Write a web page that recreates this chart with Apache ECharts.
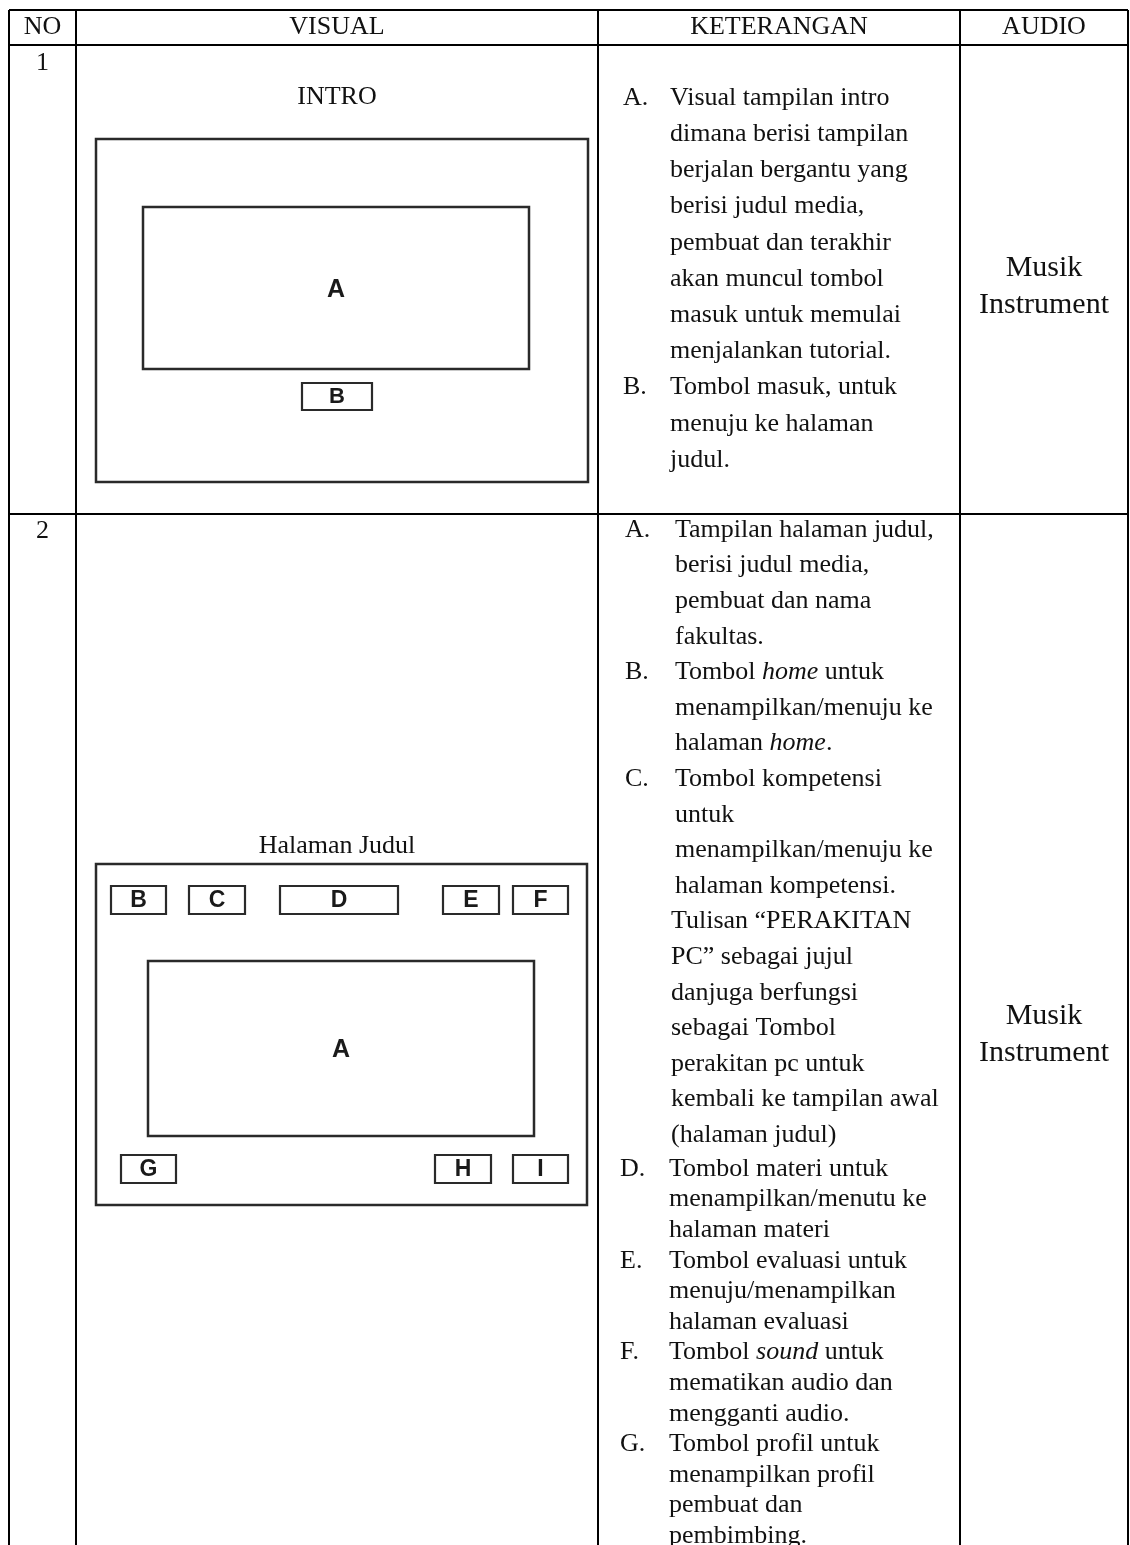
<!DOCTYPE html>
<html>
<head>
<meta charset="utf-8">
<script src="https://cdn.jsdelivr.net/npm/echarts@6/dist/echarts.min.js"></script>
<style>
html,body{margin:0;padding:0;background:#fff;}
#chart{width:1130px;height:1545px;}
</style>
</head>
<body>
<div id="chart"></div>
<script>
// ---------- content ----------
var headers = ['NO', 'VISUAL', 'KETERANGAN', 'AUDIO'];
var rowNumbers = ['1', '2'];
var visualTitles = ['INTRO', 'Halaman Judul'];
var audioText = [['Musik', 'Instrument'], ['Musik', 'Instrument']];
var introBoxLabels = ['A', 'B'];
var judulTopButtons = ['B', 'C', 'D', 'E', 'F'];
var judulBottomButtons = ['G', 'H', 'I'];
var judulMainLabel = 'A';

var ketRow1Letters = ['A.', 'B.'];
var ketRow1Lines = [
  ['Visual tampilan intro', 'dimana berisi tampilan', 'berjalan bergantu yang', 'berisi judul media,',
   'pembuat dan terakhir', 'akan muncul tombol', 'masuk untuk memulai', 'menjalankan tutorial.'],
  ['Tombol masuk, untuk', 'menuju ke halaman', 'judul.']
];
var ketRow2Letters = ['A.', 'B.', 'C.', 'D.', 'E.', 'F.', 'G.'];
var ketRow2Lines = [
  ['Tampilan halaman judul,', 'berisi judul media,', 'pembuat dan nama', 'fakultas.'],
  ['Tombol *home* untuk', 'menampilkan/menuju ke', 'halaman *home*.'],
  ['Tombol kompetensi', 'untuk', 'menampilkan/menuju ke', 'halaman kompetensi.',
   'Tulisan \u201cPERAKITAN', 'PC\u201d sebagai jujul', 'danjuga berfungsi', 'sebagai Tombol',
   'perakitan pc untuk', 'kembali ke tampilan awal', '(halaman judul)'],
  ['Tombol materi untuk', 'menampilkan/menutu ke', 'halaman materi'],
  ['Tombol evaluasi untuk', 'menuju/menampilkan', 'halaman evaluasi'],
  ['Tombol *sound* untuk', 'mematikan audio dan', 'mengganti audio.'],
  ['Tombol profil untuk', 'menampilkan profil', 'pembuat dan', 'pembimbing.']
];

// ---------- layout ----------
var L = {
  colX: [9, 76, 598, 960, 1128],
  rowY: [10, 45, 514],
  bottom: 1545,
  serif: '"Liberation Serif", "Times New Roman", serif',
  sans: '"Liberation Sans", Arial, sans-serif',
  fs: 26,
  audioFs: 30
};

var G = [];
function line(x1, y1, x2, y2, w, c) {
  G.push({type: 'line', silent: true, shape: {x1: x1, y1: y1, x2: x2, y2: y2},
    style: {stroke: c || '#000', lineWidth: w || 2}});
}
function rect(x1, y1, x2, y2, w, c) {
  G.push({type: 'rect', silent: true, shape: {x: x1, y: y1, width: x2 - x1, height: y2 - y1},
    style: {fill: 'none', stroke: c || '#2a2a2a', lineWidth: w || 2.5}});
}
function richify(s) {
  var parts = s.split('*');
  var out = '';
  for (var i = 0; i < parts.length; i++) {
    if (!parts[i]) continue;
    out += '{' + (i % 2 ? 'i' : 'n') + '|' + parts[i] + '}';
  }
  return out;
}
function text(x, y, s, opt) {
  opt = opt || {};
  var fs = opt.fs || L.fs;
  var fam = opt.family || L.serif;
  var weight = opt.bold ? 'bold' : 'normal';
  var hasRich = s.indexOf('*') >= 0;
  var st = {
    text: hasRich ? richify(s) : s,
    font: weight + ' ' + fs + 'px ' + fam,
    fill: opt.color || '#111',
    textAlign: opt.align || 'left',
    textVerticalAlign: 'middle'
  };
  if (hasRich) {
    st.rich = {
      n: {fontFamily: fam, fontSize: fs, fontStyle: 'normal', fill: '#111'},
      i: {fontFamily: fam, fontSize: fs, fontStyle: 'italic', fill: '#111'}
    };
  }
  G.push({type: 'text', silent: true, x: x, y: y, style: st});
}

// table grid
var cx = L.colX, ry = L.rowY;
line(cx[0], ry[0], cx[4], ry[0]);
line(cx[0], ry[1], cx[4], ry[1]);
line(cx[0], ry[2], cx[4], ry[2]);
for (var i = 0; i < cx.length; i++) line(cx[i], ry[0], cx[i], L.bottom);

// headers
var headerY = 27;
for (var h = 0; h < headers.length; h++) {
  text((cx[h] + cx[h + 1]) / 2, headerY, headers[h], {align: 'center'});
}

// row numbers
text((cx[0] + cx[1]) / 2, 63, rowNumbers[0], {align: 'center'});
text((cx[0] + cx[1]) / 2, 531, rowNumbers[1], {align: 'center'});

// ---- row 1 visual ----
var vcx = 337;
text(vcx, 97, visualTitles[0], {align: 'center'});
rect(96, 139, 588, 482);
rect(143, 207, 529, 369);
text(336, 290, introBoxLabels[0], {align: 'center', family: L.sans, bold: true, fs: 25, color: '#1a1a1a'});
rect(302, 383, 372, 410, 2.2);
text(337, 397, introBoxLabels[1], {align: 'center', family: L.sans, bold: true, fs: 22, color: '#1a1a1a'});

// ---- row 2 visual ----
text(vcx, 846, visualTitles[1], {align: 'center'});
rect(96, 864, 587, 1205);
var topBtnX = [[111, 166], [189, 245], [280, 398], [443, 499], [513, 568]];
for (var b = 0; b < judulTopButtons.length; b++) {
  rect(topBtnX[b][0], 886, topBtnX[b][1], 914, 2.2);
  text((topBtnX[b][0] + topBtnX[b][1]) / 2, 901, judulTopButtons[b], {align: 'center', family: L.sans, bold: true, fs: 23, color: '#1a1a1a'});
}
rect(148, 961, 534, 1136);
text(341, 1050, judulMainLabel, {align: 'center', family: L.sans, bold: true, fs: 25, color: '#1a1a1a'});
var botBtnX = [[121, 176], [435, 491], [513, 568]];
for (var b2 = 0; b2 < judulBottomButtons.length; b2++) {
  rect(botBtnX[b2][0], 1155, botBtnX[b2][1], 1183, 2.2);
  text((botBtnX[b2][0] + botBtnX[b2][1]) / 2, 1170, judulBottomButtons[b2], {align: 'center', family: L.sans, bold: true, fs: 23, color: '#1a1a1a'});
}

// ---- keterangan ----
var y = 98, step = 36.2;
for (var k = 0; k < ketRow1Lines.length; k++) {
  text(623, y, ketRow1Letters[k]);
  for (var j = 0; j < ketRow1Lines[k].length; j++) {
    text(670, y, ketRow1Lines[k][j]);
    y += step;
  }
}
y = 530;
for (var k2 = 0; k2 < ketRow2Lines.length; k2++) {
  if (k2 === 3) { y = 1169; }
  var late = k2 >= 3;
  var st2 = late ? 30.6 : 35.6;
  text(late ? 620 : 625, y, ketRow2Letters[k2]);
  for (var j2 = 0; j2 < ketRow2Lines[k2].length; j2++) {
    var tx = late ? 669 : ((k2 === 2 && j2 >= 4) ? 671 : 675);
    text(tx, y, ketRow2Lines[k2][j2]);
    y += st2;
  }
}

// ---- audio ----
var acx = (cx[3] + cx[4]) / 2;
text(acx, 268, audioText[0][0], {align: 'center', fs: L.audioFs});
text(acx, 305, audioText[0][1], {align: 'center', fs: L.audioFs});
text(acx, 1016, audioText[1][0], {align: 'center', fs: L.audioFs});
text(acx, 1053, audioText[1][1], {align: 'center', fs: L.audioFs});

var chart = echarts.init(document.getElementById('chart'), null, {renderer: 'canvas'});
chart.setOption({
  backgroundColor: '#ffffff',
  animation: false,
  graphic: {elements: G}
});
</script>
</body>
</html>
